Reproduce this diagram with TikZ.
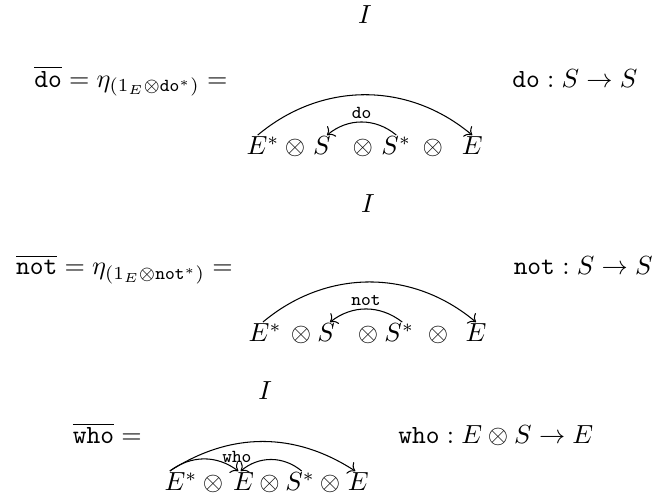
\documentclass[tikz,border=0pt]{standalone}
\usepackage{amsmath,amssymb}
\usetikzlibrary{arrows.meta,calc,positioning}

\begin{document}
\begin{tikzpicture}[
  obj/.style={inner sep=0.5pt,anchor=base},
  lbl/.style={font=\scriptsize,inner sep=1pt},
  cup/.style={->,line width=0.4pt}]
\useasboundingbox (0,0) rectangle (8.78,-6.71);
% do
\node[obj] (d-I) at (4.90,-0.31) {$I$};
\node[anchor=base east,inner sep=0pt] (d-def) at (3.06,-1.17) {$\overline{\mathtt{do}}=\eta_{(1_E\otimes\mathtt{do}^*)}=$};
\node[anchor=base west,inner sep=0pt] (d-typ) at (6.87,-1.17) {$\mathtt{do}:S\to S$};
\foreach \n/\x/\t in {Ea/3.53/E^*,o1/3.96/\otimes,S/4.32/S,o2/4.87/\otimes,Sa/5.32/S^*,o3/5.81/\otimes,E/6.34/E}
  \node[obj] (d-\n) at (\x,-2.08) {$\t$};
\draw[cup] ($(d-Ea.north)+(-0.07,0)$) to[bend left=40] (d-E.north);
\draw[cup] (d-Sa.north) to[bend right=40] node[lbl,above] {\texttt{do}} ($(d-S.north)+(0.07,0)$);
% not
\node[obj] (n-I) at (4.94,-2.85) {$I$};
\node[anchor=base east,inner sep=0pt] (n-def) at (3.13,-3.69) {$\overline{\mathtt{not}}=\eta_{(1_E\otimes\mathtt{not}^*)}=$};
\node[anchor=base west,inner sep=0pt] (n-typ) at (6.89,-3.69) {$\mathtt{not}:S\to S$};
\foreach \n/\x/\t in {Ea/3.56/E^*,o1/4.04/\otimes,S/4.38/S,o2/4.94/\otimes,Sa/5.36/S^*,o3/5.88/\otimes,E/6.39/E}
  \node[obj] (n-\n) at (\x,-4.59) {$\t$};
\draw[cup] ($(n-Ea.north)+(-0.03,0)$) to[bend left=40] (n-E.north);
\draw[cup] ($(n-Sa.north)+(0.04,0)$) to[bend right=38] node[lbl,above] {\texttt{not}} ($(n-S.north)+(0.05,0)$);
% who
\node[obj] (w-I) at (3.56,-5.37) {$I$};
\node[anchor=base east,inner sep=0pt] (w-def) at (1.91,-5.96) {$\overline{\mathtt{who}}=$};
\node[anchor=base west,inner sep=0pt] (w-typ) at (5.34,-5.96) {$\mathtt{who}:E\otimes S\to E$};
\foreach \n/\x/\t in {Ea/2.43/E^*,o1/2.86/\otimes,E1/3.27/E,o2/3.62/\otimes,Sa/4.03/S^*,o3/4.43/\otimes,E2/4.81/E}
  \node[obj] (w-\n) at (\x,-6.59) {$\t$};
\draw[cup] ($(w-Ea.north)+(-0.15,0)$) to[bend left=33] ($(w-E2.north)+(-0.04,0)$);
\draw[cup] ($(w-Ea.north)+(-0.15,0)$) to[bend left=37] ($(w-E1.north)+(-0.07,0)$);
\draw[cup] ($(w-Sa.north)+(0.02,0)$) to[bend right=40] ($(w-E1.north)+(-0.04,0)$);
\node[lbl] (w-lab) at (3.18,-6.13) {\texttt{who}};
\end{tikzpicture}
\end{document}
